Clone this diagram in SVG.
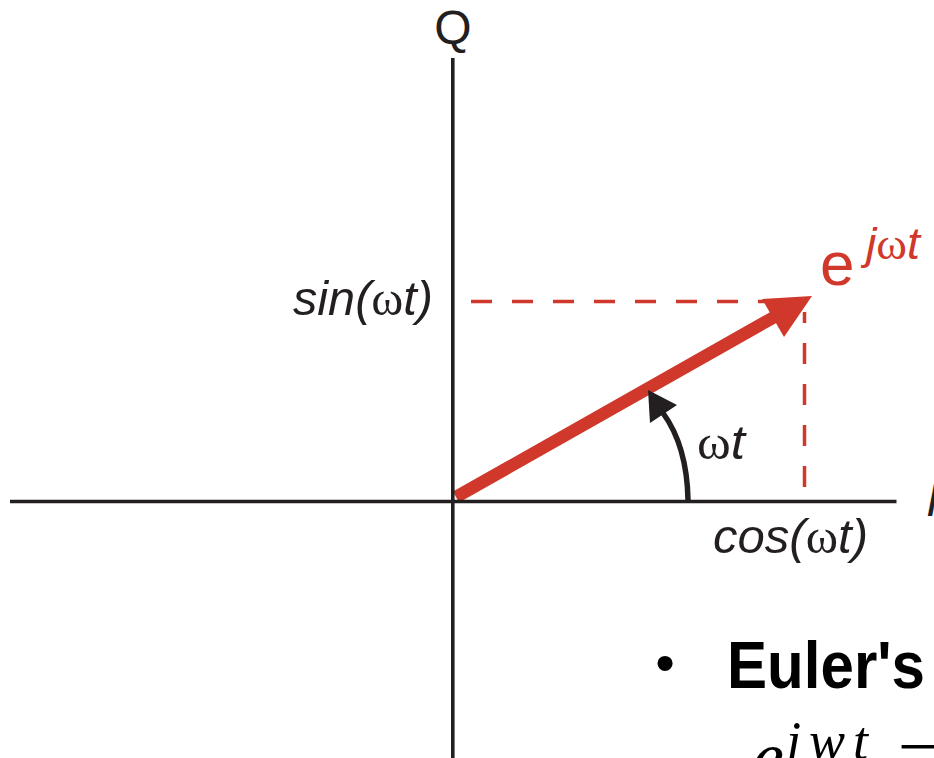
<svg xmlns="http://www.w3.org/2000/svg" width="934" height="758" viewBox="0 0 934 758">
<style>
.ax{stroke:#231f20;stroke-width:3.6;fill:none}
.red{fill:#d0382b}
.dash{stroke:#d0382b;stroke-width:3.5;fill:none;stroke-dasharray:21 20}
.lbl{font-family:"Liberation Sans",Arial,sans-serif;fill:#231f20}
.it{font-style:italic}
.w{font-family:"Liberation Serif","Times New Roman",serif;font-style:normal}
.cm{font-family:"Liberation Serif","Times New Roman",serif;font-style:italic;fill:#000}
</style>
<rect width="934" height="758" fill="#fff"/>
<g id="connectors">
<line x1="456" y1="497" x2="776" y2="316" stroke="#d0382b" stroke-width="12.5"/>
<polygon class="red" points="812,296 762,299 784,337"/>
<path class="dash" d="M471 301.5 H790"/>
<path class="dash" d="M804.5 487 V312"/>
<path d="M688 500 Q687 446 663 413" stroke="#231f20" stroke-width="5.5" fill="none"/>
<polygon fill="#231f20" points="648,390 650,423 677,405"/>
</g>
<g id="axes">
<line class="ax" x1="10" y1="501.5" x2="896.5" y2="501.5"/>
<line class="ax" x1="452.8" y1="58" x2="452.8" y2="758"/>
</g>
<g id="label-Q"><text class="lbl" x="453" y="44" font-size="48" text-anchor="middle">Q</text></g>
<g id="label-I"><text class="lbl it" x="926" y="516" font-size="46">I</text></g>
<g id="label-sin"><text class="lbl it" x="293" y="315" font-size="48" textLength="140" lengthAdjust="spacingAndGlyphs">sin(<tspan class="w">ω</tspan>t)</text></g>
<g id="label-cos"><text class="lbl it" x="713" y="553" font-size="48" textLength="155" lengthAdjust="spacingAndGlyphs">cos(<tspan class="w">ω</tspan>t)</text></g>
<g id="label-wt"><text class="lbl it" x="697" y="459" font-size="48" textLength="48" lengthAdjust="spacingAndGlyphs"><tspan class="w">ω</tspan>t</text></g>
<g id="label-ejwt"><text class="lbl" x="820" y="285" font-size="62" style="fill:#d0382b">e</text><text class="lbl it" x="866" y="259" font-size="44" style="fill:#d0382b" textLength="54" lengthAdjust="spacingAndGlyphs">j<tspan class="w">ω</tspan>t</text></g>
<g id="euler">
<text x="665" y="682" font-family="Liberation Sans,Arial,sans-serif" font-size="56" text-anchor="middle">•</text>
<text x="727" y="688" font-family="Liberation Sans,Arial,sans-serif" font-weight="bold" font-size="66" textLength="198" lengthAdjust="spacingAndGlyphs">Euler's</text>
<text class="cm" x="752" y="781" font-size="72">e</text>
<text class="cm" x="786" y="759" font-size="54" textLength="82">jwt</text>
<text class="cm" x="898" y="778" font-size="72" style="font-style:normal">=</text>
</g>
</svg>
